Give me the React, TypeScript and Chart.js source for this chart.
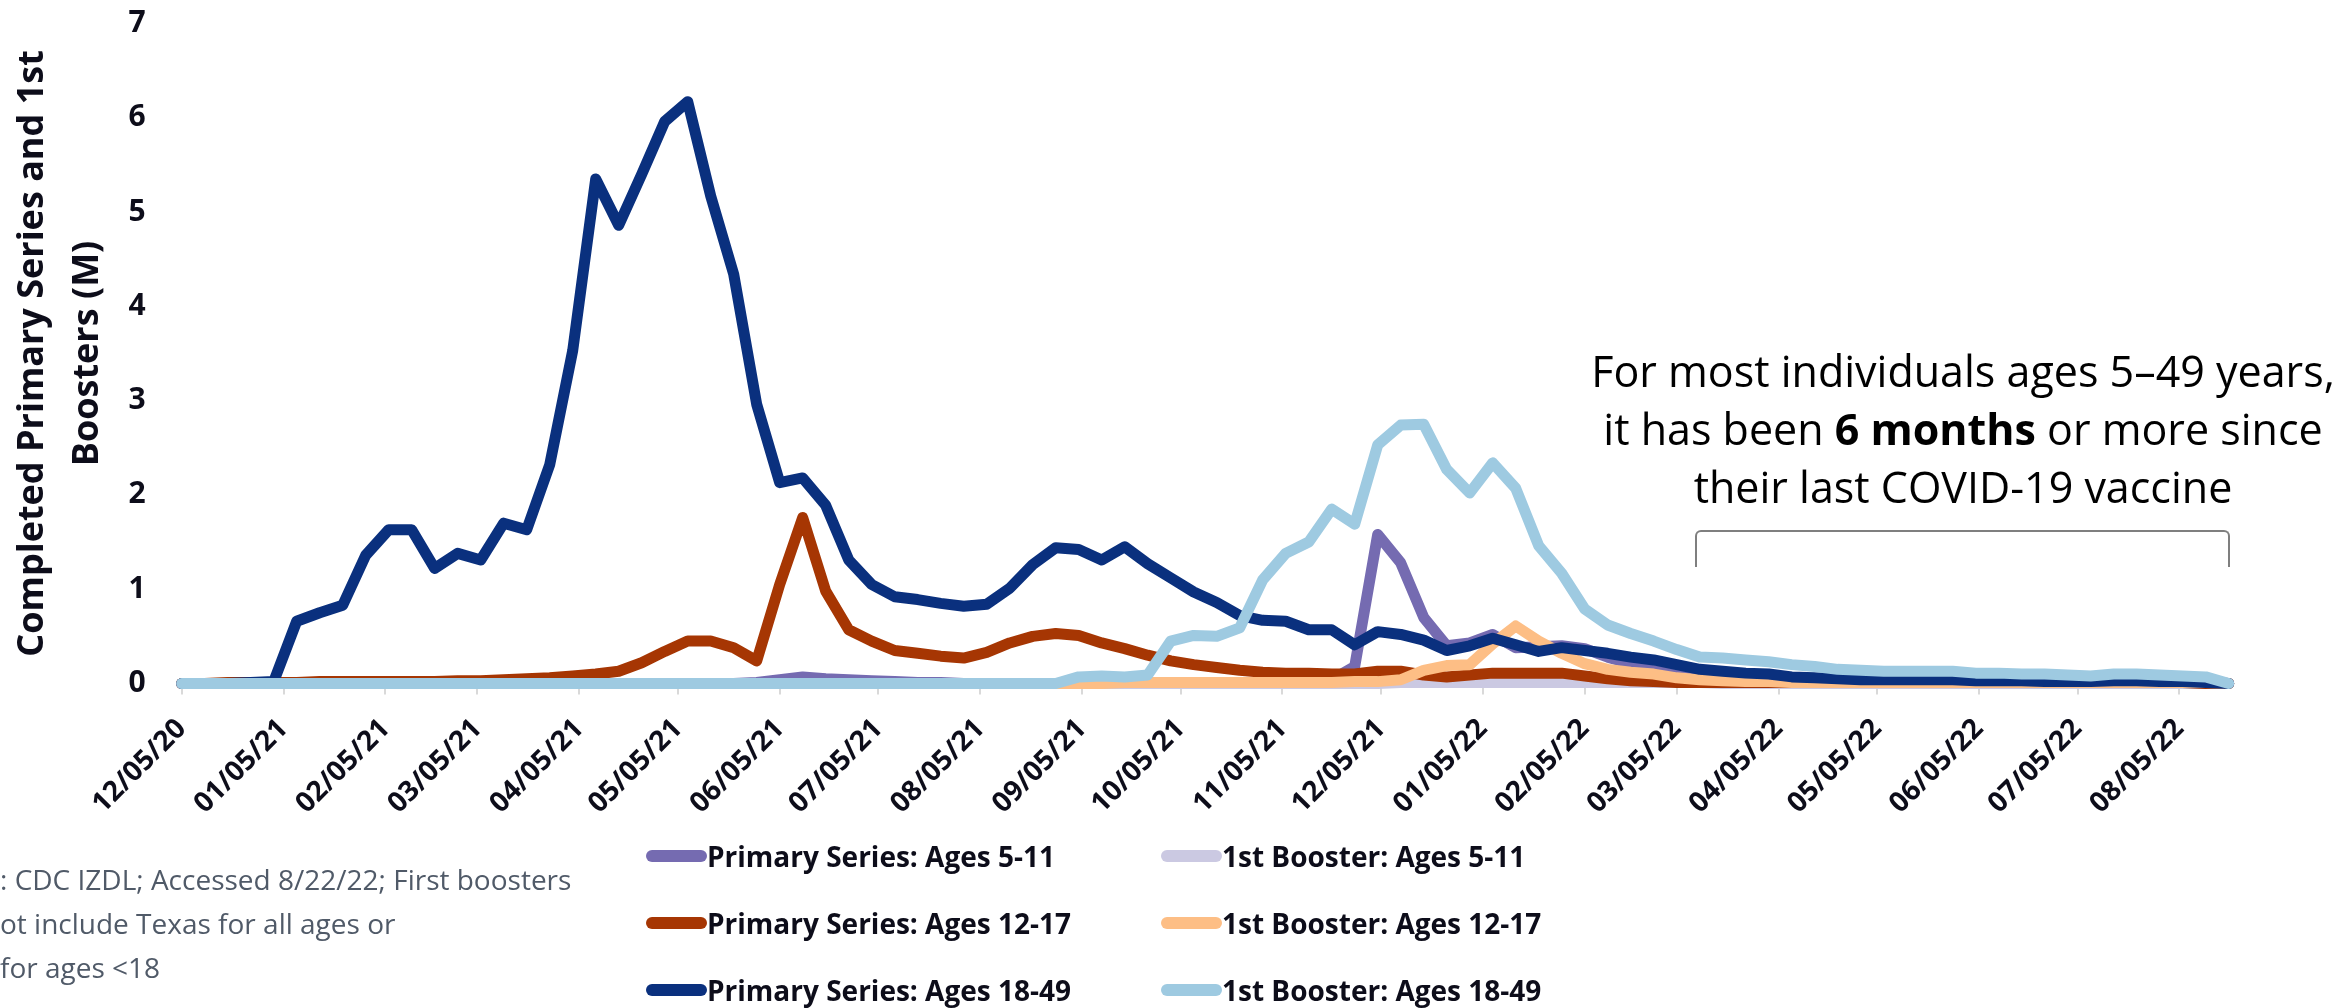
import React, { useEffect, useRef } from "react";
import { Chart, registerables } from "chart.js";

Chart.register(...registerables);

// ---------- DATA ----------
const weekEnding = [
  "12/05/20", "12/12/20", "12/19/20", "12/26/20", "01/02/21", "01/09/21", "01/16/21", "01/23/21", "01/30/21", "02/06/21",
  "02/13/21", "02/20/21", "02/27/21", "03/06/21", "03/13/21", "03/20/21", "03/27/21", "04/03/21", "04/10/21", "04/17/21",
  "04/24/21", "05/01/21", "05/08/21", "05/15/21", "05/22/21", "05/29/21", "06/05/21", "06/12/21", "06/19/21", "06/26/21",
  "07/03/21", "07/10/21", "07/17/21", "07/24/21", "07/31/21", "08/07/21", "08/14/21", "08/21/21", "08/28/21", "09/04/21",
  "09/11/21", "09/18/21", "09/25/21", "10/02/21", "10/09/21", "10/16/21", "10/23/21", "10/30/21", "11/06/21", "11/13/21",
  "11/20/21", "11/27/21", "12/04/21", "12/11/21", "12/18/21", "12/25/21", "01/01/22", "01/08/22", "01/15/22", "01/22/22",
  "01/29/22", "02/05/22", "02/12/22", "02/19/22", "02/26/22", "03/05/22", "03/12/22", "03/19/22", "03/26/22", "04/02/22",
  "04/09/22", "04/16/22", "04/23/22", "04/30/22", "05/07/22", "05/14/22", "05/21/22", "05/28/22", "06/04/22", "06/11/22",
  "06/18/22", "06/25/22", "07/02/22", "07/09/22", "07/16/22", "07/23/22", "07/30/22", "08/06/22", "08/13/22", "08/20/22",
];

const xTickLabels = [
  "12/05/20", "01/05/21", "02/05/21", "03/05/21", "04/05/21", "05/05/21", "06/05/21", "07/05/21", "08/05/21", "09/05/21",
  "10/05/21", "11/05/21", "12/05/21", "01/05/22", "02/05/22", "03/05/22", "04/05/22", "05/05/22", "06/05/22", "07/05/22",
  "08/05/22",
];

const yTickValues = [0, 1, 2, 3, 4, 5, 6, 7];

const seriesLabels = [
  "Primary Series: Ages 5-11",
  "1st Booster: Ages 5-11",
  "Primary Series: Ages 12-17",
  "1st Booster: Ages 12-17",
  "Primary Series: Ages 18-49",
  "1st Booster: Ages 18-49",
];

const seriesColors = ["#756bb1", "#cbc9e2", "#a63603", "#fdbe85", "#0a307e", "#9ecae1"];

const ps5to11 = [
  0, 0, 0, 0, 0, 0, 0, 0, 0, 0,
  0, 0, 0, 0, 0, 0, 0, 0, 0, 0,
  0, 0, 0, 0, 0, 0.01, 0.04, 0.07, 0.05, 0.04,
  0.03, 0.02, 0.01, 0.01, 0, 0, 0, 0, 0, 0,
  0, 0, 0, 0, 0, 0, 0, 0, 0, 0,
  0.04, 0.18, 1.58, 1.28, 0.7, 0.4, 0.43, 0.52, 0.38, 0.39,
  0.4, 0.37, 0.28, 0.21, 0.14, 0.09, 0.06, 0.05, 0.04, 0.03,
  0.03, 0.02, 0.02, 0.02, 0.02, 0.02, 0.02, 0.02, 0.02, 0.02,
  0.02, 0.01, 0.01, 0.01, 0.01, 0.01, 0.01, 0.01, 0.01, 0,
];

const bs5to11 = [
  0, 0, 0, 0, 0, 0, 0, 0, 0, 0,
  0, 0, 0, 0, 0, 0, 0, 0, 0, 0,
  0, 0, 0, 0, 0, 0, 0, 0, 0, 0,
  0, 0, 0, 0, 0, 0, 0, 0, 0, 0,
  0, 0, 0, 0, 0, 0, 0, 0, 0, 0,
  0, 0, 0, 0.01, 0.01, 0.01, 0.01, 0.01, 0.01, 0.01,
  0.01, 0.01, 0.01, 0.01, 0.01, 0.01, 0.01, 0, 0, 0,
  0, 0, 0, 0, 0, 0, 0, 0, 0, 0,
  0, 0, 0, 0, 0, 0, 0, 0, 0, 0,
];

const ps12to17 = [
  0, 0, 0.01, 0.01, 0.01, 0.01, 0.02, 0.02, 0.02, 0.02,
  0.02, 0.02, 0.03, 0.03, 0.04, 0.05, 0.06, 0.08, 0.1, 0.13,
  0.22, 0.34, 0.45, 0.45, 0.38, 0.24, 1.05, 1.76, 0.98, 0.57,
  0.45, 0.35, 0.32, 0.29, 0.27, 0.33, 0.43, 0.5, 0.53, 0.51,
  0.43, 0.37, 0.3, 0.24, 0.2, 0.17, 0.14, 0.12, 0.11, 0.11,
  0.1, 0.1, 0.13, 0.13, 0.09, 0.07, 0.09, 0.11, 0.11, 0.11,
  0.11, 0.08, 0.05, 0.03, 0.02, 0.01, 0.01, 0.01, 0.01, 0.01,
  0.01, 0.01, 0.01, 0.01, 0.01, 0.01, 0.01, 0.01, 0.01, 0.01,
  0.01, 0.01, 0.01, 0.01, 0.01, 0.01, 0.01, 0.01, 0, 0,
];

const bs12to17 = [
  0, 0, 0, 0, 0, 0, 0, 0, 0, 0,
  0, 0, 0, 0, 0, 0, 0, 0, 0, 0,
  0, 0, 0, 0, 0, 0, 0, 0, 0, 0,
  0, 0, 0, 0, 0, 0, 0, 0, 0, 0,
  0, 0.01, 0.01, 0.01, 0.01, 0.01, 0.01, 0.01, 0.01, 0.01,
  0.01, 0.02, 0.02, 0.04, 0.14, 0.19, 0.2, 0.42, 0.61, 0.45,
  0.32, 0.21, 0.15, 0.12, 0.1, 0.06, 0.04, 0.03, 0.02, 0.02,
  0.01, 0.01, 0.01, 0.01, 0.01, 0.01, 0.01, 0.01, 0.01, 0.01,
  0.01, 0.01, 0.01, 0.01, 0.01, 0.01, 0.01, 0.01, 0.01, 0,
];

const ps18to49 = [
  0, 0, 0, 0.01, 0.02, 0.66, 0.75, 0.83, 1.36, 1.63,
  1.63, 1.22, 1.38, 1.31, 1.7, 1.63, 2.32, 3.53, 5.35, 4.86,
  5.4, 5.96, 6.17, 5.17, 4.34, 2.96, 2.13, 2.18, 1.89, 1.31,
  1.05, 0.92, 0.89, 0.85, 0.82, 0.84, 1.01, 1.26, 1.44, 1.42,
  1.31, 1.45, 1.27, 1.12, 0.97, 0.86, 0.72, 0.67, 0.66, 0.57,
  0.57, 0.41, 0.55, 0.52, 0.46, 0.35, 0.4, 0.48, 0.41, 0.34,
  0.38, 0.35, 0.32, 0.28, 0.25, 0.2, 0.15, 0.13, 0.11, 0.1,
  0.07, 0.06, 0.05, 0.04, 0.04, 0.04, 0.04, 0.04, 0.03, 0.03,
  0.03, 0.02, 0.02, 0.02, 0.03, 0.03, 0.02, 0.02, 0.01, 0,
];

const bs18to49 = [
  0, 0, 0, 0, 0, 0, 0, 0, 0, 0,
  0, 0, 0, 0, 0, 0, 0, 0, 0, 0,
  0, 0, 0, 0, 0, 0, 0, 0, 0, 0,
  0, 0, 0, 0, 0, 0, 0, 0, 0, 0.07,
  0.08, 0.07, 0.09, 0.45, 0.51, 0.5, 0.59, 1.1, 1.38, 1.5,
  1.85, 1.69, 2.53, 2.74, 2.75, 2.27, 2.02, 2.34, 2.07, 1.46,
  1.17, 0.79, 0.62, 0.53, 0.45, 0.36, 0.28, 0.27, 0.25, 0.23,
  0.2, 0.18, 0.15, 0.14, 0.13, 0.13, 0.13, 0.13, 0.11, 0.11,
  0.1, 0.1, 0.09, 0.08, 0.1, 0.1, 0.09, 0.08, 0.07, 0,
];

const yAxisTitle = ["Completed Primary Series and 1st", "Boosters (M)"];
const annotationLines = [
  ["For most individuals ages 5–49 years,"],
  ["it has been ", "6 months", " or more since"],
  ["their last COVID-19 vaccine"],
];
const sourceLines = [": CDC IZDL; Accessed 8/22/22; First boosters", "ot include Texas for all ages or", "for ages <18"];

// ---------- HELPERS ----------
const FONT = "'Open Sans', 'DejaVu Sans', sans-serif";
const INK = "#0d0d1a";
const START = Date.UTC(2020, 11, 5);
const toDay = (s: string) => {
  const [m, d, y] = s.split("/").map(Number);
  return Math.round((Date.UTC(2000 + y, m - 1, d) - START) / 86400000);
};

export default function App() {
  const canvasRef = useRef<HTMLCanvasElement | null>(null);

  useEffect(() => {
    const days = weekEnding.map(toDay);
    const tickDays = xTickLabels.map(toDay);
    const series = [ps5to11, bs5to11, ps12to17, bs12to17, ps18to49, bs18to49];
    const drawOrder = [5, 4, 3, 2, 1, 0];

    const chart = new Chart(canvasRef.current as HTMLCanvasElement, {
      type: "line",
      data: {
        datasets: series.map((vals, k) => ({
          label: seriesLabels[k],
          data: vals.map((v, i) => ({ x: days[i], y: v })),
          borderColor: seriesColors[k],
          backgroundColor: seriesColors[k],
          borderWidth: 11,
          pointRadius: 0,
          pointHoverRadius: 0,
          tension: 0,
          borderJoinStyle: "round",
          borderCapStyle: "round",
          order: drawOrder[k],
          clip: false,
        })),
      },
      options: {
        responsive: false,
        animation: false,
        devicePixelRatio: 1,
        layout: { padding: { left: 0, right: 122.3, top: 23.4, bottom: 0 } },
        plugins: { legend: { display: false }, tooltip: { enabled: false } },
        scales: {
          x: {
            type: "linear",
            min: 0,
            max: days[days.length - 1],
            afterBuildTicks: (s: any) => {
              s.ticks = tickDays.map((v) => ({ value: v }));
            },
            afterFit: (s: any) => {
              s.height = 324.5;
            },
            ticks: {
              autoSkip: false,
              maxRotation: 45,
              minRotation: 45,
              padding: 18,
              color: INK,
              font: { family: FONT, size: 28, weight: "bold" },
              callback: (v: any) => {
                const k = tickDays.indexOf(Number(v));
                return k >= 0 ? xTickLabels[k] : "";
              },
            },
            grid: {
              display: true,
              drawOnChartArea: false,
              drawTicks: true,
              tickLength: 11,
              color: "#d9d9d9",
              lineWidth: 2,
            },
            border: { display: true, color: "#d9d9d9", width: 2 },
          },
          y: {
            type: "linear",
            min: yTickValues[0],
            max: yTickValues[yTickValues.length - 1],
            afterFit: (s: any) => {
              s.width = 181.7;
            },
            afterBuildTicks: (s: any) => {
              s.ticks = yTickValues.map((v) => ({ value: v }));
            },
            ticks: {
              padding: 2,
              color: INK,
              font: { family: FONT, size: 30, weight: "bold" },
            },
            grid: { display: false, drawTicks: true, tickLength: 34 },
            border: { display: false },
            title: {
              display: true,
              text: yAxisTitle,
              color: INK,
              font: { family: FONT, size: 36, weight: "bold", lineHeight: 1.53 },
              padding: { top: 5.5, bottom: 0 },
            },
          },
        },
      },
    } as any);

    return () => chart.destroy();
  }, []);

  const legendCols = [646, 1161];
  const legendRows = [856, 923, 990];

  return (
    <div
      style={{
        position: "fixed",
        left: 0,
        top: 0,
        width: 2351,
        height: 1008,
        background: "#ffffff",
        overflow: "hidden",
      }}
    >
      <canvas
        ref={canvasRef}
        width={2351}
        height={1008}
        style={{ position: "absolute", left: 0, top: 0, width: 2351, height: 1008, display: "block" }}
      />

      {/* annotation */}
      <div
        style={{
          position: "absolute",
          left: 1463,
          top: 342,
          width: 1000,
          textAlign: "center",
          fontFamily: FONT,
          fontSize: 43,
          lineHeight: "58px",
          color: "#000",
          whiteSpace: "nowrap",
        }}
      >
        {annotationLines.map((parts, i) => (
          <div key={i}>
            {parts.map((p, j) =>
              p === "6 months" ? (
                <b key={j} style={{ fontWeight: 700 }}>
                  {p}
                </b>
              ) : (
                <span key={j}>{p}</span>
              )
            )}
          </div>
        ))}
      </div>

      {/* bracket */}
      <div
        style={{
          position: "absolute",
          left: 1695,
          top: 530,
          width: 535,
          height: 37,
          boxSizing: "border-box",
          borderTop: "2px solid #7f7f7f",
          borderLeft: "2px solid #7f7f7f",
          borderRight: "2px solid #7f7f7f",
          borderRadius: "6px 6px 0 0",
        }}
      />

      {/* legend */}
      {seriesLabels.map((label, k) => {
        const col = k % 2;
        const row = Math.floor(k / 2);
        return (
          <div
            key={label}
            style={{
              position: "absolute",
              left: legendCols[col],
              top: legendRows[row] - 20,
              height: 40,
              display: "flex",
              alignItems: "center",
              whiteSpace: "nowrap",
            }}
          >
            <span
              style={{
                display: "inline-block",
                width: 61,
                height: 12,
                borderRadius: 6,
                background: seriesColors[k],
              }}
            />
            <span style={{ fontFamily: FONT, fontWeight: 700, fontSize: 28, color: INK }}>{label}</span>
          </div>
        );
      })}

      {/* source note */}
      {sourceLines.map((line, i) => (
        <div
          key={i}
          style={{
            position: "absolute",
            left: 0,
            top: 879 + i * 44 - 20,
            height: 40,
            display: "flex",
            alignItems: "center",
            fontFamily: FONT,
            fontSize: 28,
            color: "#505a68",
            whiteSpace: "nowrap",
          }}
        >
          {line}
        </div>
      ))}
    </div>
  );
}
